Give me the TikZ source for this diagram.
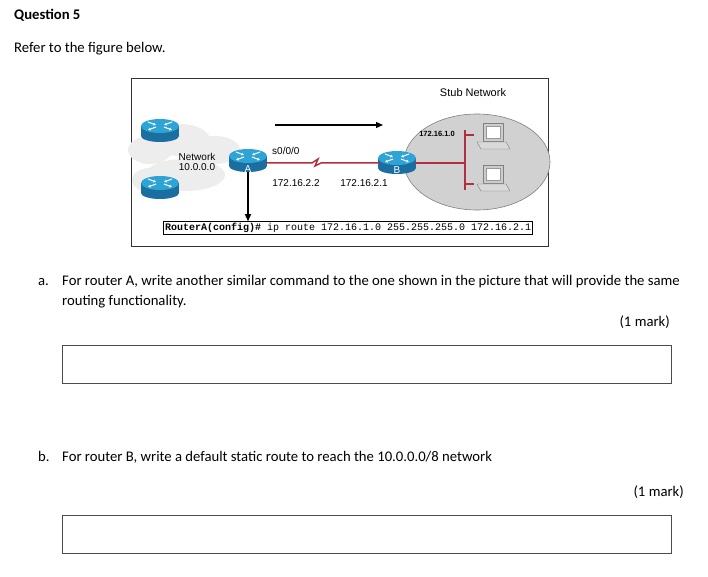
\documentclass[tikz,border=0pt]{standalone}
\usepackage{fontspec}
\setmainfont{Carlito}
\newfontfamily\figsans{Liberation Sans}
\newfontfamily\figmono{Liberation Mono}
\usetikzlibrary{arrows.meta}
\definecolor{rtop}{HTML}{2EA3D6}
\definecolor{rbody}{HTML}{1A6FA0}
\definecolor{redl}{HTML}{B03040}
\begin{document}
\begin{tikzpicture}[x=1pt,y=-1pt,
  txt/.style={anchor=base west,inner sep=0,font=\fontsize{14.7}{17}\selectfont},
  fs/.style={inner sep=0,font=\figsans\fontsize{10}{11}\selectfont},
  ans/.style={draw=black!70,line width=0.6pt},
  redw/.style={redl,line width=1.5pt},
  router/.pic={
    \fill[rbody] (-19,-4) rectangle (19,6);
    \fill[rbody] (0,6) ellipse (19 and 6);
    \fill[rtop] (0,-4) ellipse (19 and 7);
    \draw[white,line width=1pt,-{Latex[length=2.5pt,width=3pt]}] (-12,-8)--(-4,-5);
    \draw[white,line width=1pt,-{Latex[length=2.5pt,width=3pt]}] (12,-8)--(4,-5);
    \draw[white,line width=1pt,-{Latex[length=2.5pt,width=3pt]}] (-4,-3)--(-12,0);
    \draw[white,line width=1pt,-{Latex[length=2.5pt,width=3pt]}] (4,-3)--(12,0);
  },
  pc/.pic={
    \fill[black!20,draw=black!50] (-10,-15) rectangle (10,3);
    \fill[white,draw=black!40] (-7,-12) rectangle (7,0);
    \fill[black!15,draw=black!50] (-16,4) -- (13,4) -- (17,11) -- (-12,11) -- cycle;
  }]
\useasboundingbox (0,0) rectangle (708,577);
\fill[white] (0,0) rectangle (708,577);
\node[txt,font=\bfseries\fontsize{14.7}{17}\selectfont] (q) at (14,20) {Question 5};
\node[txt] (r) at (14,53) {Refer to the figure below.};
% figure
\draw[black!80] (131,78) rectangle (548,246);
\fill[black!7] (150,150) ellipse (22 and 14) (180,140) ellipse (30 and 16) (215,150) ellipse (25 and 14) (185,175) ellipse (40 and 16) (150,180) ellipse (18 and 12);
\fill[black!18,draw=black!50,line width=0.6pt] (477,162) ellipse (73 and 48);
\node[fs,font=\figsans\fontsize{11}{12}\selectfont] (stub) at (473,93) {Stub Network};
\draw[-{Triangle[length=7pt,width=6pt]},line width=1.2pt] (275,125) -- (383,125);
\pic at (160,130) {router};
\pic at (160,187) {router};
\pic at (248,160) {router};
\pic at (397,162) {router};
\node[fs,white] (la) at (248,169) {A};
\node[fs,white] (lb) at (397,170) {B};
\node[fs,align=center,font=\figsans\fontsize{10}{10}\selectfont] (net) at (197,162) {Network\\10.0.0.0};
\coordinate (ra) at (266,163);
\coordinate (rb) at (380,163);
\draw[redw] (ra) -- (312,163) -- (318,159) -- (315,166) -- (321,163) -- (rb);
\node[fs,anchor=west] (s0) at (272,151) {s0/0/0};
\node[fs] (ip1) at (296,183) {172.16.2.2};
\node[fs] (ip2) at (364,183) {172.16.2.1};
\coordinate (busB) at (415,163);
\coordinate (bus) at (465,163);
\draw[redw] (busB) -- (bus);
\draw[redw] (465,130) -- (465,190) (465,135) -- (474,135) (465,184) -- (474,184);
\node[fs,font=\figsans\bfseries\fontsize{7.5}{8}\selectfont] (n1) at (437,134) {172.16.1.0};
\pic at (493,138) {pc};
\pic at (493,180) {pc};
\node[draw,line width=1pt,inner sep=1.5pt,anchor=west,font=\figmono\fontsize{10}{10}\selectfont] (cmd) at (163,228) {\textbf{RouterA(config)\#} ip route 172.16.1.0 255.255.255.0 172.16.2.1};
\coordinate (aa) at (248,172);
\draw[-{Triangle[length=7pt,width=6pt]},line width=1.2pt] (aa) -- (cmd.north -| aa);
% questions
\node[txt] (a) at (38,285) {a.};
\node[txt] (at1) at (62,285) {For router A, write another similar command to the one shown in the picture that will provide the same};
\node[txt] (at2) at (62,305) {routing functionality.};
\node[txt,anchor=base east] (m1) at (670,326) {(1 mark)};
\draw[ans] (62,345) rectangle (671,383);
\node[txt] (b) at (38,461) {b.};
\node[txt] (bt) at (62,461) {For router B, write a default static route to reach the 10.0.0.0/8 network};
\node[txt,anchor=base east] (m2) at (684,496) {(1 mark)};
\draw[ans] (62,515) rectangle (671,553);
\end{tikzpicture}
\end{document}
